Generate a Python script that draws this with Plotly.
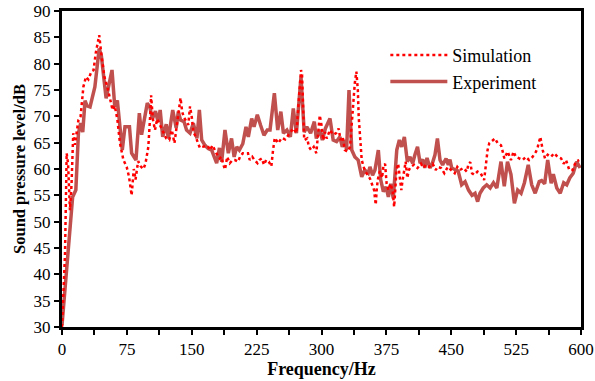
import plotly.graph_objects as go

# Experiment (frequency Hz, SPL dB)
exp_freq = [0, 12.3, 16, 19, 21.6, 24, 26.6, 29, 32.4, 38, 43, 45.5, 51, 55, 57.8, 61, 64, 67, 69.7,
            72.8, 78, 80.5, 85.5, 89.4, 92, 98.6, 101.5, 104.5, 108, 111, 113.5, 116.4, 120.5, 123, 128,
            132, 134.5, 137, 141, 144, 148, 151.8, 156, 158.8, 161.5, 165.3, 169, 173, 175.7, 178.8,
            182, 184.6, 188.4, 192.3, 196, 199, 202, 205, 209, 212.7, 215.4, 219.3, 222, 225.8, 229.6,
            233.5, 237.3, 240.5, 245.5, 249.4, 253, 256, 260, 264, 267.4, 271, 276.3, 280, 283, 287.4,
            291.7, 294, 298, 301, 304.5, 309.8, 313.5, 317.4, 321.3, 324, 327, 329, 331.8, 335, 338.6,
            342.4, 346.5, 350, 354, 356, 359, 361.8, 365.7, 368.4, 371.5, 374.6, 377.3, 380, 383, 387,
            390, 392.7, 395.8, 399.2, 402.3, 405.4, 408, 411, 414, 417, 419.4, 422, 425.4, 428, 431.2,
            434, 437, 440, 444, 446.6, 448.5, 450.5, 454, 458, 462, 466, 470, 474, 477.5, 480.5, 483.2,
            487, 491, 495, 498.8, 502.7, 507.5, 511.3, 515, 519, 523, 526.8, 530.7, 534.6, 539, 543,
            547, 551.7, 554.5, 558, 561.5, 565.5, 568, 572, 576, 580, 583.5, 587, 591, 595, 599]
exp_spl = [30.3, 54.7, 56, 66.8, 68.7, 67, 73, 72, 71.8, 75.6, 82.9, 81.5, 73.4, 76.6, 78.8, 71.8, 73,
           68, 63.6, 68, 68, 63, 61.7, 70.6, 66.5, 72.5, 71.8, 69.5, 71, 69, 71.2, 66.1, 68.5, 65.8,
           71.2, 67.8, 70.9, 69.3, 69, 67.4, 66.8, 68.7, 65.8, 71.2, 65.5, 64.5, 63.9, 63.6, 62.3, 61.1,
           64, 61.4, 67.4, 63, 65.8, 62.3, 64.2, 63.6, 64.8, 68, 66.1, 69.6, 68, 70.3, 68.3, 66.4, 67.4,
           67.4, 74.4, 67.4, 70.9, 66.8, 67.4, 66.1, 71.5, 66.8, 77.5, 67, 68, 66.8, 69, 65.8, 67.4,
           65.5, 67.7, 69.6, 65.5, 65.2, 66.1, 64.2, 65.5, 63.6, 75, 63.6, 62.3, 61.7, 58.5, 59.8, 59.2,
           60.4, 58.8, 59.8, 63.6, 58, 55.7, 56.6, 54.7, 57.2, 54.4, 63.6, 65.5, 64.2, 66.1, 61.4, 62.3,
           61.1, 62.7, 64.2, 61.1, 61.8, 60.2, 62.1, 60.2, 61, 62.7, 65.8, 61.7, 60.8, 62, 60.8, 61.8,
           60.2, 59.9, 59.6, 57, 57.6, 56, 55, 55.4, 53.8, 55.4, 56.4, 57, 56.4, 57.4, 56.4, 61.4, 56.7,
           61.4, 59, 53.5, 56, 55.4, 57.4, 60.8, 57, 55.4, 57.6, 57.8, 57.2, 61.7, 57.3, 59, 56.4, 55.4,
           57.4, 57, 58.3, 59.2, 61.4, 60.2]

# Simulation (frequency Hz, SPL dB)
sim_freq = [0, 3.5, 5.4, 7, 9.2, 11, 13, 15, 17, 19, 21.5, 24.7, 27.7, 30.5, 34, 36.5, 39, 43, 45.5, 49,
            52.4, 55.5, 58.5, 61, 64, 67, 71, 74.8, 77.5, 80.5, 83, 85, 88, 91, 94, 96.5, 99.8, 102, 103,
            105, 107.5, 110, 113, 117, 120.5, 124, 127, 130, 133, 135.5, 137, 139, 141, 143.5, 146, 148,
            150, 152, 155, 157, 159.5, 162, 165, 168.5, 171, 174, 178.4, 182.3, 184.5, 186, 188.4, 191,
            194, 197, 200, 203.5, 206, 209, 212, 215, 217, 220, 222.5, 226, 228, 231, 233.5, 236, 239,
            242, 244, 246, 250, 254, 258, 262, 267.4, 271, 276.3, 277.5, 280, 283.5, 285.5, 288, 291,
            294, 298, 300, 302, 304, 306, 309.8, 313.5, 317, 319.8, 322, 324.5, 327, 330, 333, 335, 337,
            338.5, 340.3, 342, 343, 344.5, 346.5, 350, 354, 356, 360.8, 362.7, 363.8, 365, 367.4, 370,
            371.5, 373.5, 375.3, 377.3, 380, 382.3, 384, 385, 386.7, 388.6, 390.8, 392.3, 393.5, 395.4,
            397.3, 399.2, 401, 403, 407, 411, 415, 418, 420.5, 424.5, 428.5, 432, 434.4, 438.2, 442,
            446, 450, 454, 457, 460, 464, 468, 470, 472, 474, 476.5, 480.4, 484, 488, 490, 492, 494,
            498, 500.6, 503.6, 507.5, 509.5, 511.4, 515.2, 519, 522, 524.8, 528.6, 532.5, 536.3, 540,
            544, 548, 550, 553, 555.7, 558.4, 561.5, 565.3, 569, 573, 577, 580, 582.7, 586.5, 590.4,
            594, 598]
sim_spl = [30, 44, 63, 61, 52.2, 57, 66.8, 64.6, 67, 69.3, 70, 75.6, 77.5, 77, 78.5, 78.8, 82, 85.4,
           81.8, 77.5, 75.6, 73, 71.2, 72, 69.4, 64.9, 61.7, 60.4, 58.5, 55, 60, 58, 61.5, 60.5, 60, 61,
           64.2, 70.3, 74, 69.5, 67.4, 69.5, 68.5, 67, 65.8, 65.5, 67.4, 64.9, 68.7, 72, 73.5, 70.8,
           69.8, 69.1, 68.4, 71.9, 69.9, 67, 66, 65, 64, 64.2, 64.3, 64.4, 63.6, 64.5, 63, 62, 62.3,
           61.1, 59.9, 62.3, 61.1, 61.7, 61.7, 61.4, 62.4, 63, 63, 63, 61.7, 62.3, 61.7, 61.1, 61.7, 62,
           60.8, 61.7, 61.4, 60.5, 63.6, 65.9, 64.9, 65.9, 65.6, 66.5, 67.7, 66.8, 78.8, 77.9, 65.5,
           65.8, 64.2, 63.6, 64.2, 63, 70.2, 68.3, 65.5, 67, 65.8, 67.4, 66.5, 66.8, 67.7, 65.5, 66.1,
           63.6, 63.3, 64.2, 68.7, 73.2, 76.3, 78.5, 75, 69.9, 65.5, 61.7, 59.7, 58.8, 58.2, 56, 53.2,
           56, 57.9, 59.6, 58.3, 60.5, 61, 57.2, 56, 57.2, 55.7, 52.8, 56.6, 59.8, 61, 57.6, 56, 57.6,
           59.8, 61.4, 58.3, 59.8, 60.4, 60.8, 60.2, 61, 60.2, 60.8, 60.4, 61, 59.8, 60.4, 60.2, 59.2,
           60.4, 59.8, 59.2, 60.4, 59.8, 60.2, 59.5, 61, 61.3, 59.2, 58.9, 59.5, 59.2, 57.9, 61.4, 63.6,
           64.9, 65.5, 65.8, 64.9, 64.5, 63.3, 62, 63.3, 61.7, 63.3, 62.3, 62, 61.7, 62.3, 61.7, 62.3,
           63.3, 64.2, 66.1, 63.6, 62, 62.7, 62.3, 63, 62.3, 62, 61, 61.7, 59.8, 59.8, 61.4, 61.7]

x_tickvals = [i * 37.5 for i in range(17)]
x_ticktext = [str(int(v)) if i % 2 == 0 else "" for i, v in enumerate(x_tickvals)]

FONT = "Liberation Serif, Times New Roman, serif"

fig = go.Figure()
fig.add_trace(go.Scatter(x=exp_freq, y=exp_spl, mode="lines", name="Experiment",
                         line=dict(color="#C0504D", width=3.5), legendrank=2))
fig.add_trace(go.Scatter(x=sim_freq, y=sim_spl, mode="lines", name="Simulation",
                         line=dict(color="#FF0000", width=2.5, dash="dot"), legendrank=1))

fig.update_layout(
    width=595, height=381,
    margin=dict(l=62, r=14, t=11, b=54),
    paper_bgcolor="white", plot_bgcolor="white",
    font=dict(family=FONT, size=16, color="black"),
    showlegend=True,
    legend=dict(x=0.623, y=0.918, xanchor="left", yanchor="top",
                bgcolor="rgba(0,0,0,0)", font=dict(family=FONT, size=18, color="black"),
                itemwidth=57, tracegroupgap=0),
    xaxis=dict(range=[0, 600], tickvals=x_tickvals, ticktext=x_ticktext, automargin=False,
               showline=True, linecolor="black", linewidth=3, mirror=True,
               ticks="outside", ticklen=5, tickwidth=2, tickcolor="black",
               showgrid=False, zeroline=False,
               tickfont=dict(family=FONT, size=17),
               title=dict(text="<b>Frequency/Hz</b>", font=dict(family=FONT, size=18), standoff=0)),
    yaxis=dict(range=[30, 90], dtick=5, automargin=False,
               showline=True, linecolor="black", linewidth=3, mirror=True,
               ticks="outside", ticklen=5, tickwidth=2, tickcolor="black",
               showgrid=False, zeroline=False,
               tickfont=dict(family=FONT, size=17),
               title=dict(text="<b>Sound pressure level/dB</b>", font=dict(family=FONT, size=16.5), standoff=4)),
)

fig.write_html("out.html")
